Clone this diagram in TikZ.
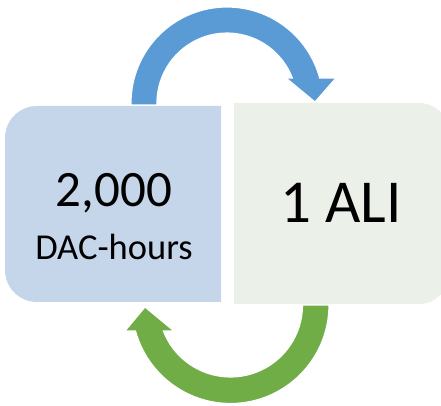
\documentclass[tikz,border=0pt]{standalone}
\usepackage{fontspec}
\setmainfont{Carlito}
\definecolor{boxblue}{HTML}{C5D5EA}
\definecolor{boxgreen}{HTML}{EBF0E8}
\definecolor{arrowblue}{HTML}{5B9BD5}
\definecolor{arrowgreen}{HTML}{70AD47}
\begin{document}
\begin{tikzpicture}[x=1pt,y=1pt,
  arrowshape/.style={draw=white,line width=1.2pt,line join=miter}]
   \clip (0,0) rectangle (441,406);
   % boxes
   \fill[boxblue] (221,104) -- (37,104) arc[start angle=270,end angle=180,radius=32]
     -- (5,268) arc[start angle=180,end angle=90,radius=32] -- (221,300) -- cycle;
   \fill[boxgreen] (234,102) -- (419,102) arc[start angle=-90,end angle=0,radius=30]
     -- (449,273) arc[start angle=0,end angle=90,radius=30] -- (234,303) -- cycle;
   % top arrow
   \fill[arrowblue,arrowshape] (131,301) -- (131,303) arc[start angle=180,end angle=15,radius=96]
     -- (336,328) -- (315,304) -- (286,328) -- (292.3,328)
     arc[start angle=21,end angle=180,radius=70] -- (157,301) -- cycle;
   % bottom arrow
   \fill[arrowgreen,arrowshape] (329,101) arc[start angle=0,end angle=-164.7,radius=98.5]
     -- (125,75) -- (145,99) -- (174,75) -- (163.4,75)
     arc[start angle=-158.8,end angle=0,radius=72] -- cycle;
   % texts
   \node[anchor=base,font=\fontsize{51}{51}\selectfont] (hours) at (114,199) {2,000};
   \node[anchor=base,font=\fontsize{36.5}{36.5}\selectfont] (unit) at (114,146) {DAC-hours};
   \node[anchor=base,font=\fontsize{61}{61}\selectfont] (ali) at (341,183) {1 ALI};
\end{tikzpicture}
\end{document}
